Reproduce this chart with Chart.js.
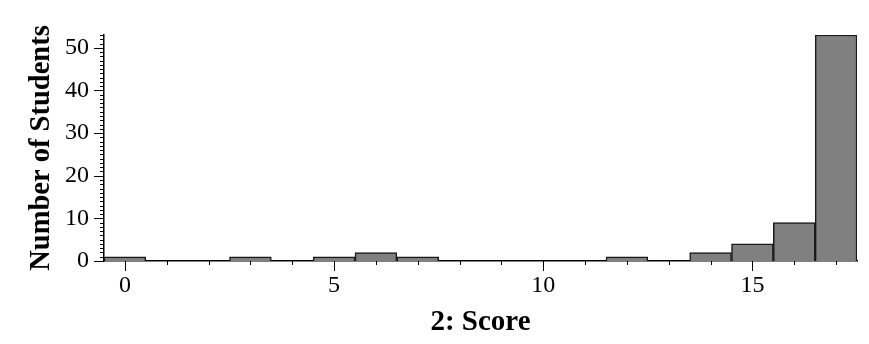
<!DOCTYPE html>
<html lang="en">
<head>
    <meta charset="UTF-8">
    <title>2: Score</title>
    <script src="https://cdn.jsdelivr.net/npm/chart.js"></script>
    <style>
        html, body { margin: 0; padding: 0; background: #fff; }
        #wrap { width: 869px; height: 344px; }
    </style>
</head>
<body>
    <div id="wrap"><canvas id="myChart" width="869" height="344"></canvas></div>
    <script>
        // histogram data
        const scores = [0, 1, 2, 3, 4, 5, 6, 7, 8, 9, 10, 11, 12, 13, 14, 15, 16, 17];
        const students = [1, 0, 0, 1, 0, 1, 2, 1, 0, 0, 0, 0, 1, 0, 2, 4, 9, 53];
        const xMajorTicks = [0, 5, 10, 15];
        const yMajorTicks = [0, 10, 20, 30, 40, 50];

        const serif = "'Liberation Serif', 'Times New Roman', serif";

        // minor/major tick marks drawn on the outside of the axes
        const tickMarks = {
            id: 'tickMarks',
            afterDraw(chart) {
                const c = chart.ctx;
                const xs = chart.scales.x;
                const ys = chart.scales.y;
                const area = chart.chartArea;
                c.save();
                c.strokeStyle = '#000';
                c.lineWidth = 1;
                c.beginPath();
                for (let v = 0; v <= 17; v++) {
                    const px = Math.round(xs.getPixelForValue(v)) + 0.5;
                    const len = xMajorTicks.includes(v) ? 10 : 4;
                    c.moveTo(px, area.bottom);
                    c.lineTo(px, area.bottom + len);
                }
                for (let v = 0; v <= 53; v++) {
                    const py = Math.round(ys.getPixelForValue(v)) + 0.5;
                    const len = yMajorTicks.includes(v) ? 10 : 4;
                    c.moveTo(area.left, py);
                    c.lineTo(area.left - len, py);
                }
                c.stroke();
                c.restore();
            }
        };

        const ctx = document.getElementById('myChart').getContext('2d');
        const myChart = new Chart(ctx, {
            type: 'bar',
            data: {
                datasets: [{
                    label: 'Number of Students',
                    data: scores.map((s, i) => ({ x: s, y: students[i] })),
                    backgroundColor: '#808080',
                    borderColor: '#1a1a1a',
                    borderWidth: 1.5,
                    borderSkipped: 'bottom',
                    barPercentage: 1,
                    categoryPercentage: 1
                }]
            },
            options: {
                responsive: false,
                animation: false,
                layout: { padding: { top: 35, right: 12, left: 25, bottom: 0 } },
                plugins: {
                    legend: { display: false },
                    tooltip: { enabled: false }
                },
                scales: {
                    x: {
                        type: 'linear',
                        offset: false,
                        min: -0.5,
                        max: 17.5,
                        grid: { display: false, drawTicks: false },
                        border: { display: true, color: '#000', width: 1.5 },
                        afterBuildTicks: (s) => { s.ticks = xMajorTicks.map(v => ({ value: v })); },
                        ticks: {
                            color: '#000',
                            font: { family: serif, size: 24 },
                            padding: 10,
                            maxRotation: 0
                        },
                        title: {
                            display: true,
                            text: '2: Score',
                            color: '#000',
                            font: { family: serif, size: 29, weight: 'bold' },
                            padding: { top: 0, bottom: 4 }
                        },
                        afterFit: (s) => { s.height = 83; }
                    },
                    y: {
                        min: 0,
                        max: 53,
                        grid: { display: false, drawTicks: false },
                        border: { display: true, color: '#000', width: 1.5 },
                        afterBuildTicks: (s) => { s.ticks = yMajorTicks.map(v => ({ value: v })); },
                        ticks: {
                            color: '#000',
                            font: { family: serif, size: 24 },
                            padding: 15
                        },
                        title: {
                            display: true,
                            text: 'Number of Students',
                            color: '#000',
                            font: { family: serif, size: 28.5, weight: 'bold' },
                            padding: { top: 0, bottom: 4 }
                        },
                        afterFit: (s) => { s.width = 79; }
                    }
                }
            },
            plugins: [tickMarks]
        });
    </script>
</body>
</html>
